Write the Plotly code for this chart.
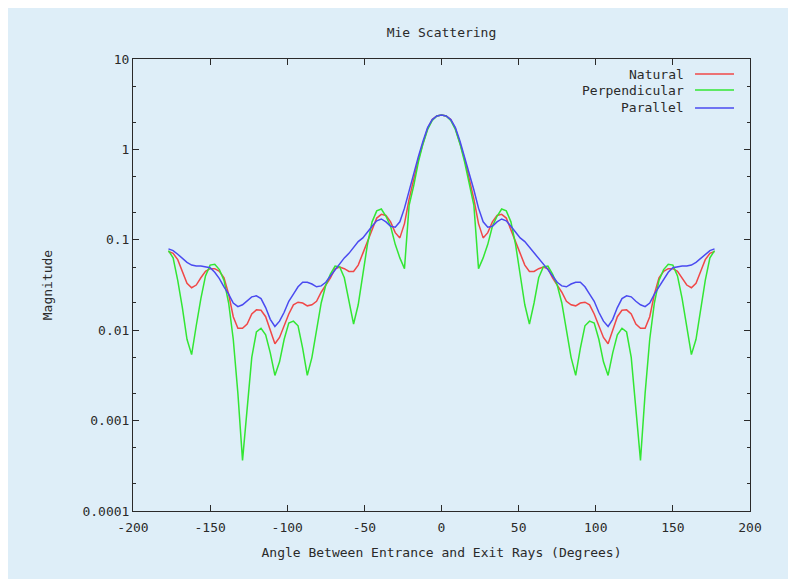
"""
Mie scattering intensity vs. scattering angle (log scale), gnuplot-style look
"""

import plotly.graph_objects as go

# scattering angle (degrees), one side of the symmetric pattern
angles = [0, 3, 6, 9, 12, 15, 18, 21, 24, 27, 30, 33, 36, 39, 42, 45, 48, 51, 54, 57,
          60, 63, 66, 69, 72, 75, 78, 81, 84, 87, 90, 93, 96, 99, 102, 105, 108, 111, 114, 117,
          120, 123, 126, 129, 132, 135, 138, 141, 144, 147, 150, 153, 156, 159, 162, 165, 168, 171, 174, 177]

natural = [2.40, 2.34, 2.14, 1.70, 1.17, 0.776, 0.468, 0.282, 0.151, 0.105,
           0.120, 0.158, 0.186, 0.191, 0.174, 0.132, 0.0955, 0.0708, 0.0525, 0.0447,
           0.0447, 0.0479, 0.0501, 0.0479, 0.0380, 0.0316, 0.0263, 0.0209, 0.0191, 0.0186,
           0.0200, 0.0204, 0.0191, 0.0151, 0.0112, 0.00832, 0.00708, 0.0100, 0.0141, 0.0166,
           0.0168, 0.0151, 0.0117, 0.0105, 0.0105, 0.0141, 0.0251, 0.0380, 0.0447, 0.0479,
           0.0479, 0.0447, 0.0380, 0.0316, 0.0295, 0.0331, 0.0447, 0.0603, 0.0708, 0.0741]

perpendicular = [2.40, 2.34, 2.09, 1.66, 1.15, 0.724, 0.398, 0.240, 0.0480, 0.0631,
                 0.0891, 0.141, 0.182, 0.219, 0.209, 0.158, 0.0891, 0.0398, 0.0191, 0.0117,
                 0.0200, 0.0380, 0.0501, 0.0513, 0.0417, 0.0316, 0.0200, 0.0100, 0.00501, 0.00316,
                 0.00631, 0.0112, 0.0126, 0.0120, 0.00794, 0.00447, 0.00316, 0.00562, 0.00891, 0.0105,
                 0.00955, 0.00501, 0.00141, 0.000363, 0.00200, 0.00794, 0.0200, 0.0355, 0.0468, 0.0537,
                 0.0525, 0.0398, 0.0224, 0.0112, 0.00537, 0.00794, 0.0178, 0.0355, 0.0631, 0.0759]

parallel = [2.40, 2.34, 2.14, 1.74, 1.23, 0.832, 0.537, 0.355, 0.224, 0.158,
            0.138, 0.141, 0.158, 0.170, 0.162, 0.141, 0.120, 0.105, 0.0955, 0.0832,
            0.0708, 0.0631, 0.0550, 0.0468, 0.0398, 0.0339, 0.0309, 0.0302, 0.0324, 0.0339,
            0.0339, 0.0302, 0.0251, 0.0209, 0.0158, 0.0126, 0.0110, 0.0132, 0.0178, 0.0224,
            0.0240, 0.0234, 0.0209, 0.0191, 0.0182, 0.0200, 0.0251, 0.0302, 0.0372, 0.0437,
            0.0490, 0.0501, 0.0513, 0.0513, 0.0525, 0.0562, 0.0617, 0.0692, 0.0759, 0.0794]

series_names = ['Natural', 'Perpendicular', 'Parallel']
series_colors = ['#f04848', '#33e633', '#4a4af0']

x_ticks = [-200, -150, -100, -50, 0, 50, 100, 150, 200]
x_ticktext = ['-200', '-150', '-100', '-50', '0', '50', '100', '150', '200']
y_ticks = [0.0001, 0.001, 0.01, 0.1, 1, 10]
y_ticktext = ['0.0001', '0.001', '0.01', '0.1', '1', '10']

BG = '#deeef8'
INK = '#2a2a2a'
FONT = 'DejaVu Sans Mono'


def mirror(vals):
    # pattern is symmetric about 0 degrees
    return list(reversed(vals[1:])) + list(vals)


x_full = [-a for a in reversed(angles[1:])] + angles

fig = go.Figure()
for name, vals, color in zip(series_names, [natural, perpendicular, parallel], series_colors):
    fig.add_trace(go.Scatter(
        x=x_full,
        y=mirror(vals),
        mode='lines',
        name=name,
        line=dict(color=color, width=1.5),
        showlegend=False
    ))

# gnuplot-style key: label on the left, line sample on the right
key_y = [0.9668, 0.9314, 0.8916]
annotations = []
shapes = []
for name, color, ky in zip(series_names, series_colors, key_y):
    annotations.append(dict(
        text=name, xref='paper', yref='paper', x=0.8963, y=ky,
        xanchor='right', yanchor='middle', showarrow=False,
        font=dict(family=FONT, size=13, color=INK)
    ))
    shapes.append(dict(
        type='line', xref='paper', yref='paper',
        x0=0.9109, x1=0.9741, y0=ky, y1=ky,
        line=dict(color=color, width=1.5)
    ))

axis_common = dict(
    showline=True, linecolor=INK, linewidth=1, mirror='ticks',
    ticks='inside', ticklen=6, tickcolor=INK, showgrid=False, zeroline=False,
    tickfont=dict(family=FONT, size=13, color=INK)
)

fig.update_layout(
    width=796, height=579,
    margin=dict(l=125, r=54, t=51, b=76),
    paper_bgcolor=BG,
    plot_bgcolor=BG,
    title=dict(text='Mie Scattering', x=0.5446, xanchor='center',
               y=0.957, yref='container', yanchor='middle',
               font=dict(family=FONT, size=13, color=INK)),
    xaxis=dict(
        range=[-200, 200], tickvals=x_ticks, ticktext=x_ticktext,
        ticklabelstandoff=4,
        title=dict(text='Angle Between Entrance and Exit Rays (Degrees)', standoff=14,
                   font=dict(family=FONT, size=13, color=INK)),
        **axis_common
    ),
    yaxis=dict(
        type='log', range=[-4, 1], tickvals=y_ticks, ticktext=y_ticktext,
        minor=dict(ticks='inside', ticklen=3, tickcolor=INK, dtick='D2', showgrid=False),
        title=dict(text='Magnitude', standoff=26,
                   font=dict(family=FONT, size=13, color=INK)),
        **axis_common
    ),
    annotations=annotations,
    shapes=shapes,
    showlegend=False
)

fig.write_html("out.html")
